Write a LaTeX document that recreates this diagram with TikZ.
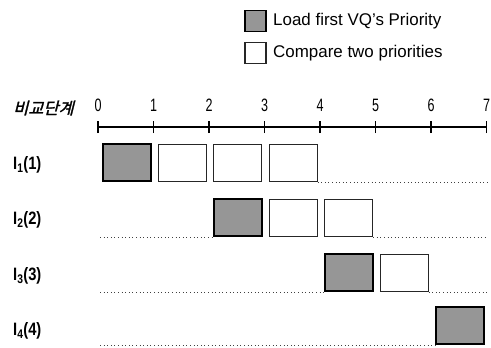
\documentclass[tikz,border=0pt]{standalone}
\usepackage{fontspec}
\setmainfont{Liberation Sans}
\newfontfamily\krfont[FakeSlant=0.25,FakeBold=1.5]{Noto Sans CJK KR}
\definecolor{boxgray}{RGB}{150,150,150}
\tikzset{
  gbox/.style={draw=black, line width=1.6bp, fill=boxgray, minimum width=48bp, minimum height=37bp, inner sep=0pt, anchor=south west},
  wbox/.style={draw=black!85, line width=1.1bp, fill=white, minimum width=48bp, minimum height=37bp, inner sep=0pt, anchor=south west},
  lgbox/.style={draw=black, line width=1.6bp, fill=boxgray, minimum width=21bp, minimum height=21bp, inner sep=0pt},
  lwbox/.style={draw=black!85, line width=1.1bp, fill=white, minimum width=21bp, minimum height=21bp, inner sep=0pt},
  dotline/.style={line width=0.9bp, black!75, dash pattern=on 1bp off 2.6bp},
  axisline/.style={line width=1.3bp, black},
  ticklab/.style={font=\fontsize{18}{18}\selectfont, inner sep=0pt},
  rowlab/.style={font=\fontsize{18}{18}\selectfont\bfseries, inner sep=0pt, anchor=west},
  legtext/.style={font=\fontsize{17}{17}\selectfont, inner sep=0pt, anchor=west},
}
\begin{document}
\begin{tikzpicture}[x=1bp,y=-1bp]
\useasboundingbox (0,0) rectangle (491,347);
% legend
\node[lgbox] (lg1) at (255.5,21) {};
\node[legtext] (lt1) at (273,21) {Load first VQ's Priority};
\node[lwbox] (lg2) at (255.5,53) {};
\node[legtext] (lt2) at (273,53) {Compare two priorities};
% axis
\node[anchor=west, inner sep=0pt] (axlab) at (13,108) {\krfont\fontsize{16.5}{16.5}\selectfont 비교단계};
\coordinate (a0) at (98,127);
\coordinate (a7) at (486.5,127);
\draw[axisline] (a0) -- (a7);
\foreach \i in {0,...,7} {
  \coordinate (t\i) at ({98+55.5*\i},127);
  \draw[line width=1.2bp] ([yshift=-6bp]t\i) -- ([yshift=6bp]t\i);
  \node[ticklab] (tl\i) at ({98+55.5*\i},105) {\scalebox{0.7}[1]{\i}};
}
% row labels
\node[rowlab] (l1) at (13,165) {\scalebox{0.82}[1]{I\textsubscript{1}(1)}};
\node[rowlab] (l2) at (13,220) {\scalebox{0.82}[1]{I\textsubscript{2}(2)}};
\node[rowlab] (l3) at (13,276) {\scalebox{0.82}[1]{I\textsubscript{3}(3)}};
\node[rowlab] (l4) at (13,331) {\scalebox{0.82}[1]{I\textsubscript{4}(4)}};
% row 1
\node[gbox] (r1a) at ({98+4},182) {};
\node[wbox] (r1b) at ({98+55.5+4},182) {};
\node[wbox] (r1c) at ({98+111+4},182) {};
\node[wbox] (r1d) at ({98+166.5+4},182) {};
\coordinate (r1e) at (487,182);
\draw[dotline] (r1d.south east) -- (r1e);
% row 2
\coordinate (r2s) at (100,237);
\node[gbox] (r2a) at ({98+111+4},237) {};
\node[wbox] (r2b) at ({98+166.5+4},237) {};
\node[wbox] (r2c) at ({98+222+4},237) {};
\coordinate (r2e) at (487,237);
\draw[dotline] (r2s) -- (r2a.south west);
\draw[dotline] (r2c.south east) -- (r2e);
% row 3
\coordinate (r3s) at (100,292);
\node[gbox] (r3a) at ({98+222+4},292) {};
\node[wbox] (r3b) at ({98+277.5+4},292) {};
\coordinate (r3e) at (487,292);
\draw[dotline] (r3s) -- (r3a.south west);
\draw[dotline] (r3b.south east) -- (r3e);
% row 4
\coordinate (r4s) at (100,345);
\node[gbox] (r4a) at ({98+333+4},345) {};
\draw[dotline] (r4s) -- (r4a.south west);
\end{tikzpicture}
\end{document}
